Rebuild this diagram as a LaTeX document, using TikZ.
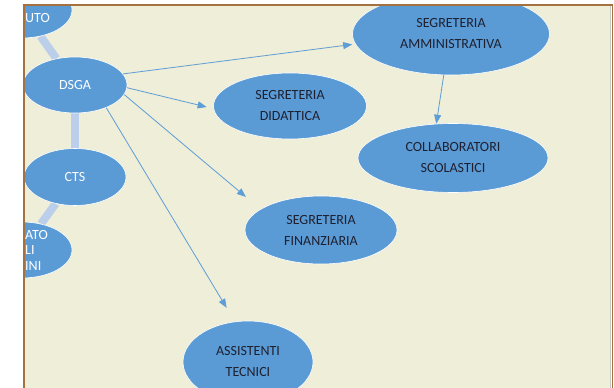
\documentclass[tikz,border=0pt]{standalone}
\usepackage{fontspec}
\setmainfont{Carlito}
\usetikzlibrary{shapes.geometric,arrows.meta}
\definecolor{nodeblue}{HTML}{5B9BD5}
\definecolor{ringblue}{HTML}{BCCFEA}
\definecolor{arrowblue}{HTML}{5E9DD6}
\definecolor{cream}{HTML}{EEEED9}
\definecolor{framebrown}{HTML}{A5713F}
\definecolor{framegray}{HTML}{C8C8C8}
\definecolor{textdark}{HTML}{1E2030}
\pgfdeclarelayer{ringlayer}
\pgfsetlayers{ringlayer,main}
\begin{document}
\begin{tikzpicture}[x=1pt,y=-1pt,
  oval/.style={ellipse, fill=nodeblue, draw=white, line width=0.6pt, inner sep=0pt,
    align=center, text=textdark, font=\fontsize{14}{21}\selectfont},
  whiteoval/.style={oval, text=white},
  cutlabel/.style={anchor=west, inner sep=1pt, text=white, font=\fontsize{14}{21}\selectfont},
  arr/.style={draw=arrowblue, line width=0.8pt, -{Triangle[length=9pt,width=7pt]}},
  ring/.style={draw=ringblue, line width=8pt}]
\useasboundingbox (0,0) rectangle (614,388);
\begin{pgfonlayer}{ringlayer}
  \fill[cream] (24,4) rectangle (611,388);
\end{pgfonlayer}
\begin{scope}
  \clip (25,5.5) rectangle (610,388);
  \node[whiteoval, minimum width=100pt, minimum height=56pt] (top) at (22,10) {};
  \node[whiteoval, minimum width=104pt, minimum height=56pt] (dsga) at (75,85) {DSGA};
  \node[whiteoval, minimum width=102pt, minimum height=57pt] (cts) at (75,177) {CTS};
  \node[whiteoval, minimum width=100pt, minimum height=56pt] (bottom) at (22,250) {};
  \node[cutlabel] (toptext) at (24,18) {UTO};
  \node[cutlabel, align=left, font=\fontsize{14}{15.5}\selectfont] (bottomtext) at (24,250) {ATO\\LI\\INI};
  \node[oval, minimum width=197pt, minimum height=82pt] (segamm) at (451,34) {SEGRETERIA\\AMMINISTRATIVA};
  \node[oval, minimum width=190pt, minimum height=69pt] (collab) at (453,158) {COLLABORATORI\\SCOLASTICI};
  \node[oval, minimum width=153pt, minimum height=66pt] (segdid) at (290,106) {SEGRETERIA\\DIDATTICA};
  \node[oval, minimum width=152pt, minimum height=68pt] (segfin) at (321,230) {SEGRETERIA\\FINANZIARIA};
  \node[oval, minimum width=130pt, minimum height=82pt] (assist) at (248,362) {ASSISTENTI\\TECNICI};
\end{scope}
\begin{pgfonlayer}{ringlayer}
  \begin{scope}
    \clip (25,5.5) rectangle (610,388);
    \draw[ring] (top) -- (dsga);
    \draw[ring] (dsga) -- (cts);
    \draw[ring] (cts) -- (bottom);
  \end{scope}
\end{pgfonlayer}
\draw[arr, shorten >=3pt] (dsga.13.5) -- (segamm.186);
\draw[arr, shorten >=7pt] (dsga.-3) -- (segdid.182);
\draw[arr, shorten >=19pt] (dsga.-11.5) -- (segfin.161);
\draw[arr, shorten >=16pt] (dsga.-36) -- (assist.108.8);
\draw[arr] (segamm.260) -- (collab.116.6);
\draw[framebrown, line width=2pt] (23,4.5) -- (612,4.5);
\draw[framebrown, line width=2pt] (24,4) -- (24,388);
\draw[framegray, line width=1pt] (610.5,6) -- (610.5,388);
\draw[framebrown, line width=0.8pt] (612.6,4) -- (612.6,388);
\end{tikzpicture}
\end{document}
